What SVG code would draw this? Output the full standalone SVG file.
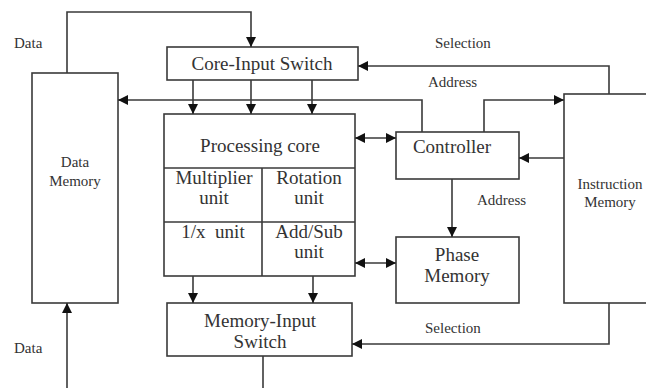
<svg xmlns="http://www.w3.org/2000/svg" width="646" height="388" viewBox="0 0 646 388">
<defs>
<style>
.box{fill:#fff;stroke:#3a3a3a;stroke-width:1.6}
.ln{fill:none;stroke:#3a3a3a;stroke-width:1.6}
.big{font-family:"Liberation Serif","Times New Roman",serif;font-size:19px;fill:#333;text-anchor:middle}
.sm{font-family:"Liberation Serif","Times New Roman",serif;font-size:15px;fill:#333}
.smc{font-family:"Liberation Serif","Times New Roman",serif;font-size:15px;fill:#333;text-anchor:middle}
</style>
<marker id="ah" viewBox="0 0 10 10" refX="10" refY="5" markerWidth="10" markerHeight="10" markerUnits="userSpaceOnUse" orient="auto-start-reverse">
<path d="M0,0 L10,5 L0,10 z" fill="#111"/>
</marker>
</defs>
<rect width="646" height="388" fill="#fff"/>

<g id="data-memory">
<rect class="box" x="32" y="73" width="86" height="230"/>
<text class="smc" x="75" y="167">Data</text>
<text class="smc" x="75" y="186">Memory</text>
</g>

<g id="core-input-switch">
<rect class="box" x="167" y="47" width="191" height="33"/>
<text class="big" x="262" y="70">Core-Input Switch</text>
</g>

<g id="processing-core">
<rect class="box" x="164" y="114" width="191" height="162"/>
<line class="ln" x1="164" y1="168" x2="355" y2="168"/>
<line class="ln" x1="164" y1="222" x2="355" y2="222"/>
<line class="ln" x1="262" y1="168" x2="262" y2="276"/>
<text class="big" x="260" y="152">Processing core</text>
<text class="big" x="214" y="184">Multiplier</text>
<text class="big" x="214" y="204">unit</text>
<text class="big" x="309" y="184">Rotation</text>
<text class="big" x="309" y="204">unit</text>
<text class="big" x="213" y="238" xml:space="preserve">1/x  unit</text>
<text class="big" x="309" y="238">Add/Sub</text>
<text class="big" x="309" y="258">unit</text>
</g>

<g id="controller">
<rect class="box" x="396" y="132" width="123" height="47"/>
<text class="big" x="452" y="153">Controller</text>
</g>

<g id="phase-memory">
<rect class="box" x="396" y="237" width="123" height="66"/>
<text class="big" x="457" y="261">Phase</text>
<text class="big" x="457" y="282">Memory</text>
</g>

<g id="instruction-memory">
<rect class="box" x="564" y="94" width="90" height="209"/>
<text class="smc" x="610" y="189">Instruction</text>
<text class="smc" x="610" y="207">Memory</text>
</g>

<g id="memory-input-switch">
<rect class="box" x="167" y="303" width="185" height="53"/>
<text class="big" x="260" y="327">Memory-Input</text>
<text class="big" x="260" y="348">Switch</text>
</g>

<g id="connectors">
<polyline class="ln" points="67,73 67,12 251,12 251,47" marker-end="url(#ah)"/>
<line class="ln" x1="193" y1="80" x2="193" y2="114" marker-end="url(#ah)"/>
<line class="ln" x1="251" y1="80" x2="251" y2="114" marker-end="url(#ah)"/>
<line class="ln" x1="312" y1="80" x2="312" y2="114" marker-end="url(#ah)"/>
<polyline class="ln" points="422,132 422,100 118,100" marker-end="url(#ah)"/>
<polyline class="ln" points="484,132 484,100 564,100" marker-end="url(#ah)"/>
<polyline class="ln" points="609,94 609,66 358,66" marker-end="url(#ah)"/>
<line class="ln" x1="564" y1="158" x2="519" y2="158" marker-end="url(#ah)"/>
<line class="ln" x1="355" y1="138" x2="396" y2="138" marker-start="url(#ah)" marker-end="url(#ah)"/>
<line class="ln" x1="355" y1="263" x2="396" y2="263" marker-start="url(#ah)" marker-end="url(#ah)"/>
<line class="ln" x1="452" y1="179" x2="452" y2="237" marker-end="url(#ah)"/>
<line class="ln" x1="193" y1="276" x2="193" y2="303" marker-end="url(#ah)"/>
<line class="ln" x1="313" y1="276" x2="313" y2="303" marker-end="url(#ah)"/>
<polyline class="ln" points="609,303 609,344 352,344" marker-end="url(#ah)"/>
<line class="ln" x1="263" y1="356" x2="263" y2="390"/>
<line class="ln" x1="67" y1="390" x2="67" y2="303" marker-end="url(#ah)"/>
</g>

<g id="labels">
<text class="sm" x="14" y="48">Data</text>
<text class="sm" x="14" y="353">Data</text>
<text class="sm" x="435" y="48">Selection</text>
<text class="sm" x="428" y="87">Address</text>
<text class="sm" x="477" y="205">Address</text>
<text class="sm" x="425" y="333">Selection</text>
</g>
</svg>
